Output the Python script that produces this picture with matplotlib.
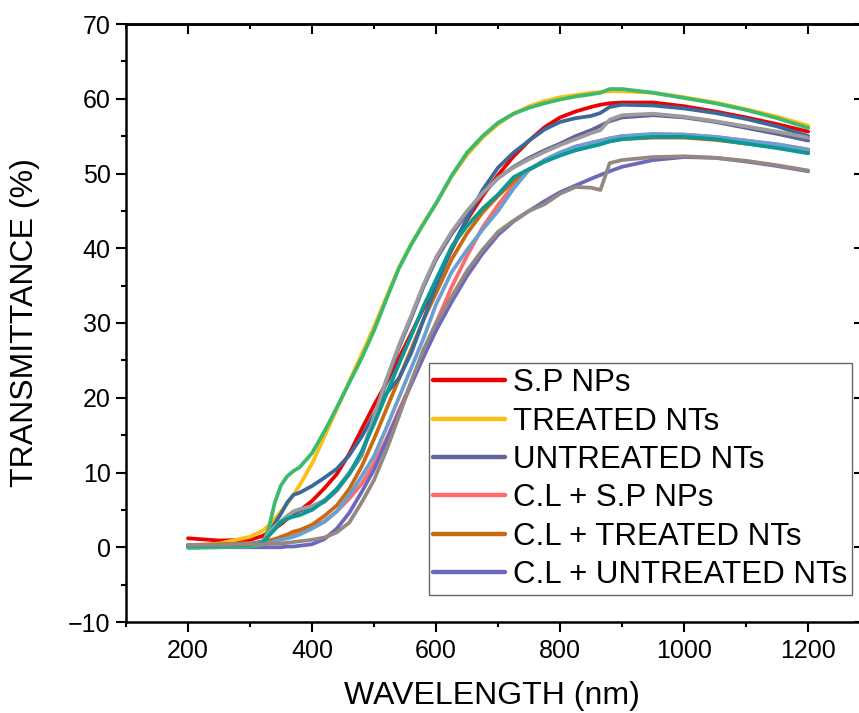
import matplotlib
matplotlib.use("Agg")
import matplotlib.pyplot as plt
from matplotlib.ticker import MultipleLocator

plt.rcParams['font.family'] = ['Liberation Sans', 'DejaVu Sans']

wavelength = [200, 250, 300, 320, 330, 340, 350, 360, 370, 380, 400, 420, 440, 460, 480,
              500, 520, 540, 560, 580, 600, 625, 650, 675, 700, 725, 750, 775, 800, 825,
              850, 865, 880, 900, 950, 1000, 1050, 1100, 1150, 1200]

sp_nps = [1.2, 0.9, 1.0, 1.5, 2.0, 2.5, 3.1, 3.8, 4.4, 4.9, 6.2, 7.9, 9.8, 12.5, 15.8,
          19.0, 22.0, 25.3, 28.6, 32.0, 35.3, 39.8, 43.8, 47.0, 49.8, 52.3, 54.4, 56.2, 57.5, 58.3,
          58.9, 59.2, 59.4, 59.5, 59.5, 59.0, 58.3, 57.5, 56.6, 55.6]
treated = [0.2, 0.5, 1.4, 2.2, 2.9, 3.8, 4.8, 5.8, 7.0, 8.3, 11.2, 14.8, 18.5, 22.2, 25.8,
           29.5, 33.5, 37.4, 40.6, 43.4, 46.0, 49.6, 52.5, 54.8, 56.6, 58.0, 59.0, 59.7, 60.2, 60.5,
           60.8, 60.9, 61.0, 61.0, 60.8, 60.2, 59.5, 58.6, 57.6, 56.4]
untreated = [0.2, 0.2, 0.3, 0.6, 1.7, 2.6, 3.3, 4.0, 4.6, 4.9, 5.3, 6.1, 7.6, 9.8, 12.3,
             17.2, 22.2, 26.7, 30.7, 34.9, 38.5, 41.9, 44.7, 47.3, 49.4, 50.9, 52.1, 53.1, 54.0, 55.0,
             55.8, 56.4, 57.0, 57.5, 57.8, 57.5, 56.9, 56.1, 55.3, 54.4]
cl_sp_nps = [0.3, 0.3, 0.4, 0.5, 0.6, 0.8, 1.1, 1.4, 1.7, 1.9, 2.6, 3.5, 4.8, 6.5, 8.5,
             11.2, 14.5, 18.3, 22.0, 26.0, 30.0, 34.8, 39.0, 42.8, 45.8, 48.5, 50.5, 51.8, 52.8, 53.6,
             54.1, 54.4, 54.7, 55.0, 55.2, 55.2, 54.9, 54.4, 53.9, 53.2]
cl_treated = [0.3, 0.4, 0.5, 0.7, 0.9, 1.1, 1.4, 1.7, 2.1, 2.3, 3.0, 4.2, 5.6, 7.8, 10.8,
              14.5, 18.5, 22.5, 26.5, 30.5, 34.0, 38.5, 42.0, 44.8, 47.0, 49.0, 50.5, 51.6, 52.5, 53.2,
              53.7, 54.0, 54.3, 54.6, 54.8, 54.8, 54.5, 54.0, 53.5, 52.9]
cl_untreated = [0.0, 0.0, 0.0, 0.0, 0.0, 0.0, 0.0, 0.1, 0.1, 0.2, 0.4, 1.1, 2.5, 4.6, 7.4,
                10.4, 14.2, 18.0, 21.8, 25.5, 29.0, 32.8, 36.3, 39.3, 41.8, 43.6, 45.0, 46.3, 47.5, 48.4,
                49.3, 49.8, 50.3, 50.9, 51.8, 52.2, 52.1, 51.6, 51.0, 50.3]

# unlabeled repeat measurements
rep_treated = [-0.1, 0.0, 0.1, 0.3, 2.5, 6.0, 8.3, 9.5, 10.2, 10.7, 12.6, 15.5, 18.7, 22.0, 25.3,
               29.0, 33.2, 37.3, 40.5, 43.3, 46.0, 49.7, 52.8, 55.0, 56.8, 58.0, 58.8, 59.4, 59.9, 60.3,
               60.6, 60.8, 61.3, 61.3, 60.8, 60.1, 59.4, 58.5, 57.4, 56.1]
rep_sp_nps = [0.3, 0.3, 0.4, 0.8, 1.8, 3.2, 4.5, 6.0, 7.0, 7.3, 8.2, 9.3, 10.5, 12.3, 14.8,
              17.8, 20.6, 22.6, 26.0, 30.5, 35.0, 40.0, 44.0, 47.8, 50.8, 52.8, 54.4, 55.9, 56.9, 57.4,
              57.7, 58.1, 58.9, 59.2, 59.1, 58.7, 58.1, 57.3, 56.3, 55.0]
rep_untreated = [0.3, 0.3, 0.4, 0.7, 1.9, 2.8, 3.5, 4.2, 4.8, 5.1, 5.5, 6.3, 7.8, 10.0, 12.5,
                 17.5, 22.5, 27.0, 31.0, 35.2, 38.8, 42.2, 45.0, 47.4, 49.4, 50.8, 51.9, 52.9, 53.8, 54.6,
                 55.4, 55.8, 57.2, 57.8, 58.0, 57.6, 57.0, 56.3, 55.6, 54.8]
rep_cl_sp_nps = [0.2, 0.2, 0.3, 0.4, 0.6, 0.8, 1.0, 1.2, 1.4, 1.7, 2.5, 3.4, 4.8, 7.0, 9.5,
                 12.2, 16.0, 20.0, 24.0, 28.0, 32.5, 36.8, 39.8, 42.5, 45.0, 48.0, 50.5, 51.8, 52.8, 53.6,
                 54.1, 54.4, 54.7, 55.0, 55.3, 55.2, 54.9, 54.4, 53.9, 53.2]
rep_cl_treated = [0.2, 0.2, 0.3, 0.6, 1.5, 2.4, 3.4, 3.8, 4.1, 4.3, 5.0, 6.2, 7.8, 9.8, 12.8,
                  16.5, 20.5, 24.5, 28.3, 32.3, 35.8, 40.2, 43.0, 45.3, 47.2, 49.5, 50.6, 51.6, 52.4, 53.1,
                  53.6, 53.9, 54.3, 54.6, 54.9, 54.9, 54.6, 54.0, 53.4, 52.7]
rep_cl_untreated = [0.3, 0.3, 0.4, 0.4, 0.5, 0.5, 0.5, 0.6, 0.7, 0.8, 1.0, 1.3, 2.0, 3.3, 6.0,
                    9.0, 13.0, 17.5, 22.2, 26.5, 30.0, 33.5, 37.0, 39.8, 42.2, 43.7, 45.0, 45.9, 47.3, 48.2,
                    48.1, 47.8, 51.4, 51.8, 52.2, 52.3, 52.1, 51.7, 51.1, 50.4]

labels = ["S.P NPs", "TREATED NTs", "UNTREATED NTs", "C.L + S.P NPs",
          "C.L + TREATED NTs", "C.L + UNTREATED NTs"]
main_series = [sp_nps, treated, untreated, cl_sp_nps, cl_treated, cl_untreated]
main_colors = ['#ee0000', '#fcbf14', '#62649a', '#ff6a6a', '#c86a12', '#6b68bd']
rep_series = [rep_sp_nps, rep_treated, rep_untreated, rep_cl_sp_nps, rep_cl_treated, rep_cl_untreated]
rep_colors = ['#3a6a9a', '#3dbb6c', '#9c9c9c', '#6a9fd2', '#0a9a96', '#948880']

fig = plt.figure(figsize=(8.59, 7.13), dpi=100)
ax = fig.add_axes([126/859, 1-622/713, 738/859, 598/713])

lw = 2.7
for s, c, lab in zip(main_series, main_colors, labels):
    ax.plot(wavelength, s, color=c, lw=lw, label=lab, solid_capstyle='round')
for s, c in zip(rep_series, rep_colors):
    ax.plot(wavelength, s, color=c, lw=lw, solid_capstyle='round')

ax.set_xlim(100, 1290)
ax.set_ylim(-10, 70)
ax.set_xticks([200, 400, 600, 800, 1000, 1200])
ax.xaxis.set_minor_locator(MultipleLocator(100))
ax.yaxis.set_major_locator(MultipleLocator(10))
ax.yaxis.set_minor_locator(MultipleLocator(5))

for sp in ax.spines.values():
    sp.set_linewidth(1.8)

ax.tick_params(which='both', direction='out', width=1.5, labelsize=18, top=False, right=False)
ax.tick_params(which='major', length=7)
ax.tick_params(which='minor', length=3.6)
ax.tick_params(axis='x', pad=5)
ax.tick_params(axis='y', pad=4)

# mirrored inward ticks on top and right
axt = ax.secondary_xaxis('top')
axt.set_xticks([200, 400, 600, 800, 1000, 1200])
axt.xaxis.set_minor_locator(MultipleLocator(100))
axt.tick_params(which='both', direction='in', width=1.5, labeltop=False)
axt.tick_params(which='major', length=7)
axt.tick_params(which='minor', length=3.6)
axr = ax.secondary_yaxis('right')
axr.yaxis.set_major_locator(MultipleLocator(10))
axr.yaxis.set_minor_locator(MultipleLocator(5))
axr.tick_params(which='both', direction='in', width=1.5, labelright=False)
axr.tick_params(which='major', length=7)
axr.tick_params(which='minor', length=3.6)
for sec in (axt, axr):
    for sp in sec.spines.values():
        sp.set_linewidth(1.8)

ax.set_xlabel("WAVELENGTH (nm)", fontsize=23)
ax.set_ylabel("TRANSMITTANCE (%)", fontsize=23)
ax.xaxis.set_label_coords(0.5 * 732 / 738, -0.098)
ax.yaxis.set_label_coords(-0.117, 0.5)

leg = ax.legend(loc='lower right', bbox_to_anchor=(852/859, 1-595/713),
                bbox_transform=fig.transFigure, fontsize=22.5, frameon=True, fancybox=False,
                handlelength=2.3, handletextpad=0.25, labelspacing=0.27, borderpad=0.15,
                borderaxespad=0.0)
leg.get_frame().set_edgecolor('#404040')
leg.get_frame().set_linewidth(1.0)
for h in leg.get_lines():
    h.set_linewidth(3.2)

fig.savefig("out.png", dpi=100)
